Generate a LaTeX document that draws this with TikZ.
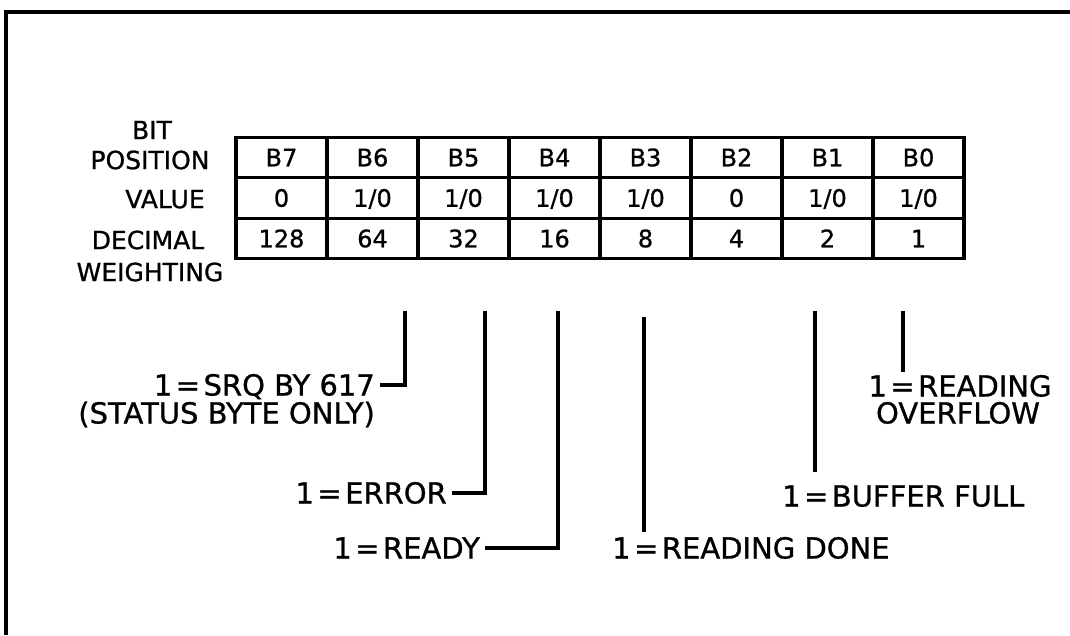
\documentclass[tikz,border=0pt]{standalone}
\usepackage{fontspec}
\setmainfont{DejaVu Sans}[FakeBold=0.9]
\newcommand{\myeq}{\hspace{0.12em}=\hspace{0.12em}}
\begin{document}
\begin{tikzpicture}[x=1pt,y=-1pt,
  cell/.style={draw, line width=3.4pt, minimum width=91pt, minimum height=40.5pt,
    inner sep=0pt, text height=17.5pt, text depth=0pt, font=\fontsize{24}{24}\selectfont},
  rowlab/.style={inner sep=0pt, text height=18.2pt, text depth=0pt, font=\fontsize{25}{25}\selectfont},
  lab/.style={inner xsep=5pt, inner ysep=0pt, text height=21pt, text depth=0pt, font=\fontsize{29}{29}\selectfont},
  lead/.style={line width=3.2pt},
  framel/.style={line width=3.5pt}]
\useasboundingbox (0,0) rectangle (1070,635);
% frame
\draw[framel] (1070,12) -- (6,12) -- (6,635);
% row labels
\node[rowlab] (lbit) at (152,130) {BIT};
\node[rowlab] (lpos) at (150,160) {POSITION};
\node[rowlab] (lval) at (165,199) {VALUE};
\node[rowlab] (ldec) at (148,240) {DECIMAL};
\node[rowlab] (lwei) at (150,272) {WEIGHTING};
% table
\foreach \t [count=\i from 0] in {B7,B6,B5,B4,B3,B2,B1,B0}
  \node[cell] (p\i) at ({281.5+91*\i},157.5) {\t};
\foreach \t [count=\i from 0] in {0,1/0,1/0,1/0,1/0,0,1/0,1/0}
  \node[cell] (v\i) at ({281.5+91*\i},198) {\t};
\foreach \t [count=\i from 0] in {128,64,32,16,8,4,2,1}
  \node[cell] (w\i) at ({281.5+91*\i},238.5) {\t};
% leader start points
\coordinate (a6) at (405,311);
\coordinate (a5) at (485,311);
\coordinate (a4) at (558,311);
\coordinate (a3) at (644,317);
\coordinate (a1) at (815,311);
\coordinate (a0) at (903,311);
% labels
\node[lab, anchor=east] (srq) at (380,385) {1\myeq SRQ BY 617};
\node[lab, anchor=east, inner xsep=0pt] (stat) at (375,413) {(STATUS BYTE ONLY)};
\node[lab, anchor=east] (err) at (452,493) {1\myeq ERROR};
\node[lab, anchor=east] (rdy) at (485,548) {1\myeq READY};
\node[lab, anchor=west, inner xsep=0pt] (done) at (612,548) {1\myeq READING DONE};
\node[lab, anchor=west, inner xsep=0pt] (full) at (782,496) {1\myeq BUFFER FULL};
\node[lab, inner xsep=0pt] (rd) at (960,386) {1\myeq READING};
\node[lab, inner xsep=0pt] (ovf) at (958,413) {OVERFLOW};
% leaders
\draw[lead] (a6) |- (srq.east);
\draw[lead] (a5) |- (err.east);
\draw[lead] (a4) |- (rdy.east);
\draw[lead] (a3) -- ([yshift=5pt]a3 |- done.north);
\draw[lead] (a1) -- ([yshift=13pt]a1 |- full.north);
\draw[lead] (a0) -- ([yshift=3pt]a0 |- rd.north);
\end{tikzpicture}
\end{document}
